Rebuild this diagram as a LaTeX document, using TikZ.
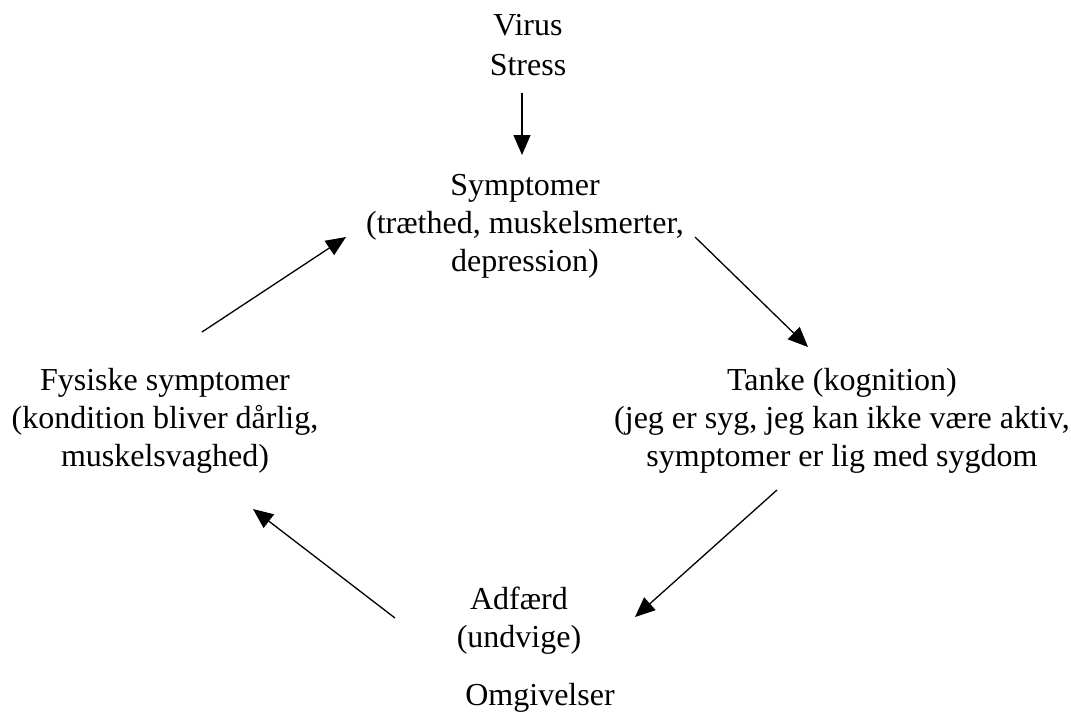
\documentclass[tikz,border=0pt]{standalone}
\usepackage{fontspec}
\setmainfont{Liberation Serif}
\usetikzlibrary{arrows.meta}

\begin{document}
\begin{tikzpicture}[
  x=1pt, y=-1pt,
  label/.style={anchor=north, inner sep=0pt, align=center,
    font=\fontsize{32}{38}\selectfont},
  arr/.style={line width=1.3pt, -{Triangle[length=20pt,width=17pt]}}
]
% page frame
\useasboundingbox[fill=white] (0,0) rectangle (1071,713);

% a strut in the first line fixes the distance from the top edge to its baseline
\newcommand{\topstrut}{\rule{0pt}{26pt}}

\node[label, font=\fontsize{32}{40}\selectfont] (virus) at (528,9) {\topstrut Virus\\Stress};
\node[label] (symp)  at (525,169) {\topstrut Symptomer\\(træthed, muskelsmerter,\\depression)};
\node[label] (fys)   at (165,364) {\topstrut Fysiske symptomer\\(kondition bliver dårlig,\\muskelsvaghed)};
\node[label] (tanke) at (842,364) {\topstrut Tanke (kognition)\\(jeg er syg, jeg kan ikke være aktiv,\\symptomer er lig med sygdom};
\node[label] (adf)   at (519,583) {\topstrut Adfærd\\(undvige)};
\node[label] (omg)   at (540,679) {\topstrut Omgivelser};

% the cycle
\draw[arr] ([shift={(-6,84)}]virus.north) -- ([shift={(-3,-14)}]symp.north);
\draw[arr] ([shift={(37,-32)}]fys.north) -- ([shift={(-179,68)}]symp.north);
\draw[arr] ([shift={(170,68)}]symp.north) -- ([shift={(-34,-17)}]tanke.north);
\draw[arr] ([shift={(-65,126)}]tanke.north) -- ([shift={(116,34)}]adf.north);
\draw[arr] ([shift={(-124,35)}]adf.north) -- ([shift={(88,145)}]fys.north);
\end{tikzpicture}
\end{document}
